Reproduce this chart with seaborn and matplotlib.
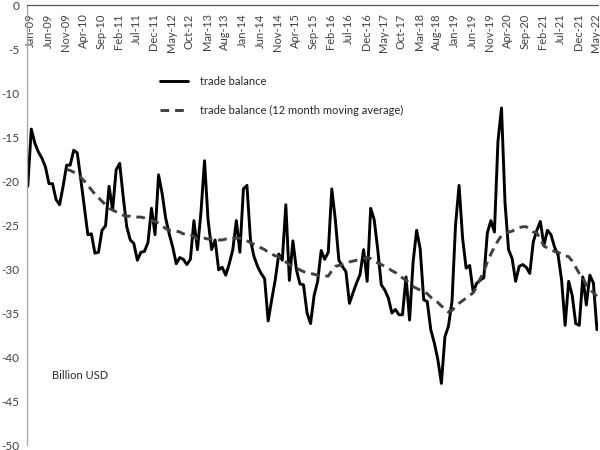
import numpy as np
import pandas as pd
import matplotlib
matplotlib.use("Agg")
import matplotlib.pyplot as plt
import matplotlib.transforms as mtransforms
import seaborn as sns

# ---- data (billion USD, monthly from Jan-09) ----
trade_balance = [
    -20.6, -14.1, -15.7, -16.7, -17.4, -18.4, -20.3, -20.3, -22.1, -22.7,
    -20.6, -18.2, -18.2, -16.5, -16.8, -19.8, -23.0, -26.1, -26.0, -28.2,
    -28.1, -25.6, -25.1, -20.6, -23.3, -18.75, -18.0, -21.8, -25.2, -26.7,
    -27.1, -29.0, -28.1, -28.0, -27.0, -23.1, -26.1, -19.3, -21.4, -24.2,
    -26.0, -27.5, -29.4, -28.7, -28.9, -29.5, -28.9, -24.5, -27.8, -23.5,
    -17.7, -24.4, -27.8, -26.7, -30.1, -29.8, -30.7, -29.4, -27.8, -24.5,
    -28.1, -20.9, -20.5, -26.7, -28.6, -29.7, -30.5, -31.1, -35.9, -33.5,
    -31.25, -28.3, -29.0, -22.7, -31.3, -26.8, -30.1, -31.7, -31.8, -35.0,
    -36.2, -33.0, -31.4, -27.9, -28.9, -28.1, -20.9, -24.4, -29.0, -29.7,
    -30.3, -33.9, -32.7, -31.6, -30.6, -27.8, -31.4, -23.1, -24.4, -27.8,
    -31.8, -32.4, -33.3, -35.0, -34.6, -35.2, -35.2, -30.9, -35.8, -29.2,
    -25.6, -27.7, -33.5, -33.7, -36.9, -38.4, -40.3, -43.0, -37.7, -36.5,
    -33.7, -25.0, -20.5, -26.5, -29.9, -29.6, -32.6, -31.6, -31.25, -31.0,
    -25.9, -24.5, -25.8, -15.5, -11.7, -22.5, -27.8, -28.8, -31.4, -29.7,
    -29.5, -29.8, -30.5, -26.9, -25.6, -24.6, -27.3, -25.6, -26.1, -27.5,
    -28.4, -31.25, -36.4, -31.4, -33.0, -36.2, -36.4, -30.9, -34.1, -30.7,
    -31.6, -36.9,
]

# 12 month moving average, first value at Dec-09 (12th month)
moving_avg = [
    -18.7, -18.8, -19.0, -19.2, -19.6, -20.0, -20.5, -21.0, -21.5, -21.9,
    -22.3, -22.7, -23.1, -23.3, -23.5, -23.7, -23.9, -24.0, -24.0, -24.1,
    -24.1, -24.1, -24.2, -24.4, -24.5, -24.6, -24.8, -25.1, -25.4, -25.6,
    -25.6, -25.7, -25.8, -26.0, -26.1, -26.1, -26.3, -26.6, -26.6, -26.5,
    -26.6, -26.6, -26.6, -26.7, -26.7, -26.6, -26.6, -26.5, -26.5, -26.5,
    -26.6, -26.8, -27.0, -27.2, -27.4, -27.6, -27.8, -28.1, -28.3, -28.5,
    -28.6, -28.9, -29.2, -29.5, -29.7, -29.9, -30.1, -30.3, -30.4, -30.5,
    -30.6, -30.7, -30.8, -30.8, -30.8, -30.2, -29.7, -29.6, -29.5, -29.4,
    -29.2, -29.1, -29.0, -28.9, -28.8, -28.7, -28.8, -29.1, -29.3, -29.5,
    -29.7, -29.9, -30.2, -30.4, -30.8, -31.0, -31.3, -31.6, -32.0, -32.2,
    -32.4, -32.6, -32.8, -33.2, -33.6, -33.8, -34.2, -34.5, -34.9, -34.7,
    -34.3, -33.9, -33.6, -33.3, -33.0, -32.7, -32.0, -31.1, -30.3, -29.2,
    -28.3, -27.5, -26.8, -26.2, -26.0, -25.8, -25.7, -25.5, -25.3, -25.2,
    -25.2, -25.5, -25.8, -25.9, -26.6, -27.4, -27.6, -27.8, -28.0, -28.1,
    -28.3, -28.5, -28.6, -29.1, -29.8, -30.5, -31.0, -31.8, -32.3, -32.7,
    -33.1,
]
ma_start = 11

tick_labels = [
    "Jan-09", "Jun-09", "Nov-09", "Apr-10", "Sep-10", "Feb-11", "Jul-11",
    "Dec-11", "May-12", "Oct-12", "Mar-13", "Aug-13", "Jan-14", "Jun-14",
    "Nov-14", "Apr-15", "Sep-15", "Feb-16", "Jul-16", "Dec-16", "May-17",
    "Oct-17", "Mar-18", "Aug-18", "Jan-19", "Jun-19", "Nov-19", "Apr-20",
    "Sep-20", "Feb-21", "Jul-21", "Dec-21", "May-22",
]
tick_step = 5
y_ticks = [0, -5, -10, -15, -20, -25, -30, -35, -40, -45, -50]

label_tb = "trade balance"
label_ma = "trade balance (12 month moving average)"
unit_text = "Billion USD"

# ---- plotting ----
sns.set_theme(style="white")
plt.rcParams["font.family"] = ["Lato", "DejaVu Sans"]

fig = plt.figure(figsize=(6, 4.5), dpi=100)
ax = fig.add_axes([26.7 / 600, 1 - 445 / 450, 571.3 / 600, 440 / 450])

df_tb = pd.DataFrame({"m": np.arange(len(trade_balance)), "v": trade_balance})
df_ma = pd.DataFrame({"m": np.arange(ma_start, ma_start + len(moving_avg)), "v": moving_avg})

sns.lineplot(data=df_tb, x="m", y="v", ax=ax, color="black", lw=2.1, label=label_tb)
sns.lineplot(data=df_ma, x="m", y="v", ax=ax, color="#404040", lw=2.1, label=label_ma)
ax.lines[1].set_dashes((3, 2))

ax.set_xlim(-0.3, len(trade_balance) - 0.7)
ax.set_ylim(-50, 0)
ax.set_xlabel("")
ax.set_ylabel("")

ax.spines["top"].set_visible(False)
ax.spines["right"].set_visible(False)
ax.spines["bottom"].set_position(("data", 0))
ax.spines["bottom"].set_color("#595959")
ax.spines["bottom"].set_linewidth(0.9)
ax.spines["left"].set_color("#a6a6a6")
ax.spines["left"].set_linewidth(0.9)

ax.set_xticks(np.arange(len(tick_labels)) * tick_step)
ax.set_xticklabels(tick_labels, rotation=90, fontsize=8, color="#404040")
ax.set_yticks(y_ticks)
ax.set_yticklabels([str(t) for t in y_ticks], fontsize=8.5, color="#404040")
ax.tick_params(axis="x", direction="out", length=3, width=0.8, color="#595959", pad=3)
ax.tick_params(axis="y", length=0, pad=5)
ax.grid(False)

# shift the rotated month labels slightly right of their ticks
offset = mtransforms.ScaledTranslation(2.5 / 100, 0, fig.dpi_scale_trans)
for lab in ax.get_xticklabels():
    lab.set_transform(lab.get_transform() + offset)

handles, labels = ax.get_legend_handles_labels()
ax.legend(handles, labels, loc="upper left", bbox_to_anchor=(0.233, 0.839),
          frameon=False, fontsize=8, handlelength=2.5, handletextpad=1.1,
          labelspacing=1.6, borderpad=0, borderaxespad=0,
          labelcolor="#262626")

ax.text(0.0443, 0.159, unit_text, transform=ax.transAxes, fontsize=8,
        color="#262626", va="center", ha="left")

fig.savefig("out.png", dpi=100)
